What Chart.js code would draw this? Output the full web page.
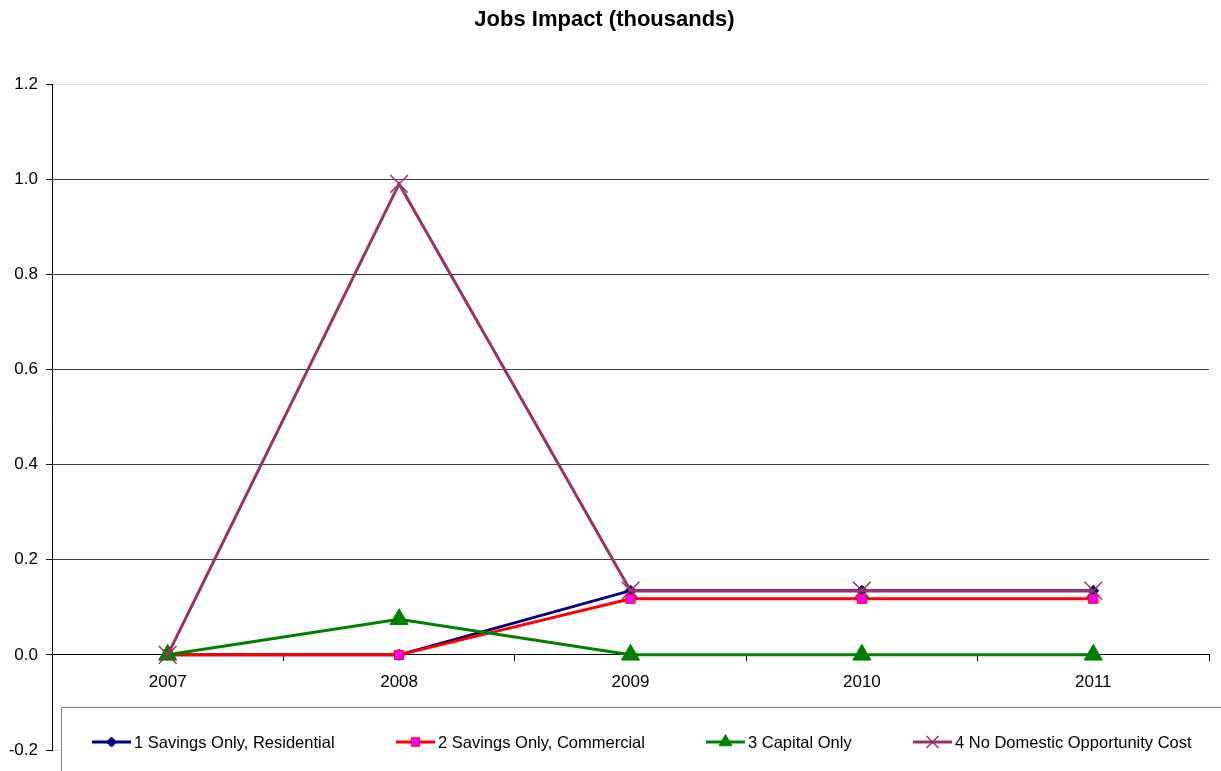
<!DOCTYPE html>
<html>
<head>
<meta charset="utf-8">
<script src="https://cdn.jsdelivr.net/npm/chart.js@4"></script>
<style>
  html, body { margin: 0; padding: 0; background: #fff; }
  #wrap { width: 1221px; height: 771px; }
</style>
</head>
<body>
<div id="wrap"><canvas id="jobsChart" width="1221" height="771"></canvas></div>
<script>
const years = ['2007', '2008', '2009', '2010', '2011'];
const seriesNames = [
    '1 Savings Only, Residential',
    '2 Savings Only, Commercial',
    '3 Capital Only',
    '4 No Domestic Opportunity Cost'
];
const residential = [0, 0, 0.135, 0.135, 0.135];
const commercial = [0, 0, 0.118, 0.118, 0.118];
const capitalOnly = [0, 0.075, 0, 0, 0];
const noOppCost = [0, 0.99, 0.135, 0.135, 0.135];
const yTicks = [-0.2, 0, 0.2, 0.4, 0.6, 0.8, 1.0, 1.2];

const FONT = '"Liberation Sans", Arial, sans-serif';

// marker radius on the plot and in the legend
const styles = [
    { color: '#000080', fill: '#000080', marker: 'rectRot', radius: 5.5, legendRadius: 5, width: 3 },
    { color: '#ff0000', fill: '#ff00ff', marker: 'rect', radius: 6.5, legendRadius: 6, width: 3 },
    { color: '#008000', fill: '#008000', marker: 'triangle', radius: 10.5, legendRadius: 7.5, width: 3 },
    { color: '#993366', fill: '#993366', marker: 'crossRot', radius: 12.5, legendRadius: 8.5, width: 3 }
];
const seriesData = [residential, commercial, capitalOnly, noOppCost];

// legend item x positions (line start) along the bottom box
const legendX = [92, 396, 706, 913];

const legendBox = {
    id: 'legendBox',
    afterDraw(chart) {
        const ctx = chart.ctx;
        ctx.save();
        ctx.fillStyle = '#fff';
        ctx.strokeStyle = '#808080';
        ctx.lineWidth = 1;
        ctx.fillRect(61.5, 707.5, 1200, 100);
        ctx.strokeRect(61.5, 707.5, 1200, 100);
        const y = 742;
        seriesNames.forEach((name, i) => {
            const s = styles[i];
            const x0 = legendX[i];
            ctx.strokeStyle = s.color;
            ctx.lineWidth = s.width;
            ctx.beginPath();
            ctx.moveTo(x0, y);
            ctx.lineTo(x0 + 39, y);
            ctx.stroke();
            ctx.fillStyle = s.fill;
            ctx.lineWidth = s.marker === 'crossRot' ? 1.5 : 1;
            Chart.helpers.drawPoint(ctx, {
                pointStyle: s.marker,
                radius: s.legendRadius,
                borderWidth: ctx.lineWidth
            }, x0 + 19.5, y);
            ctx.fillStyle = '#000';
            ctx.font = '16.5px ' + FONT;
            ctx.textBaseline = 'middle';
            ctx.textAlign = 'left';
            ctx.fillText(name, x0 + 42, y + 1);
        });
        ctx.restore();
    }
};

new Chart(document.getElementById('jobsChart'), {
    type: 'line',
    data: {
        labels: years,
        datasets: seriesData.map((vals, i) => ({
            label: seriesNames[i],
            data: vals,
            borderColor: styles[i].color,
            backgroundColor: styles[i].fill,
            borderWidth: styles[i].width,
            pointStyle: styles[i].marker,
            pointRadius: styles[i].radius,
            pointBorderColor: styles[i].color,
            pointBackgroundColor: styles[i].fill,
            pointBorderWidth: styles[i].marker === 'crossRot' ? 1.5 : 1,
            tension: 0,
            fill: false,
            order: 3 - i
        }))
    },
    options: {
        responsive: false,
        animation: false,
        layout: { autoPadding: false, padding: { left: 0, right: 12, bottom: 21, top: 0 } },
        plugins: {
            legend: { display: false },
            tooltip: { enabled: false },
            title: {
                display: true,
                text: 'Jobs Impact (thousands)',
                color: '#000',
                font: { family: FONT, size: 22, weight: 'bold' },
                padding: { top: 7, bottom: 50.6 }
            }
        },
        scales: {
            x: {
                position: { y: 0 },
                offset: true,
                grid: {
                    offset: true,
                    drawOnChartArea: false,
                    drawTicks: true,
                    tickLength: 6,
                    tickColor: '#000'
                },
                border: { display: true, color: '#000', width: 1 },
                ticks: {
                    color: '#000',
                    padding: 11,
                    font: { family: FONT, size: 17 }
                }
            },
            y: {
                min: -0.2,
                max: 1.2,
                afterBuildTicks(scale) {
                    scale.ticks = yTicks.map(v => ({ value: v }));
                },
                afterFit(scale) { scale.width = 52; },
                grid: {
                    color: ctx => {
                        const v = ctx.tick ? Math.round(ctx.tick.value * 10) / 10 : 0;
                        return (v === 1.2 || v === -0.2) ? '#e0e0e0' : '#404040';
                    },
                    lineWidth: 1,
                    tickLength: 6,
                    tickColor: '#000'
                },
                border: { display: true, color: '#000', width: 1 },
                ticks: {
                    color: '#000',
                    padding: 8,
                    font: { family: FONT, size: 17 },
                    callback: v => Number(v).toFixed(1)
                }
            }
        }
    },
    plugins: [legendBox]
});
</script>
</body>
</html>
